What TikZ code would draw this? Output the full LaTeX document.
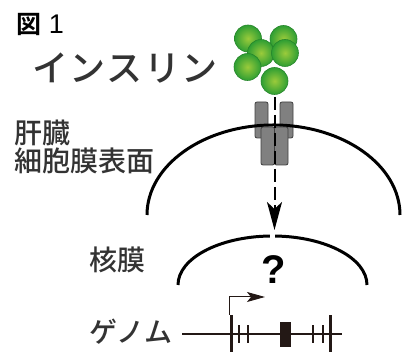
\documentclass[tikz,border=0pt]{standalone}
\usepackage{fontspec}
\setmainfont{Liberation Sans}
\newfontfamily\jp{Noto Sans CJK JP}[UprightFont=* Medium, BoldFont=* Bold]
\newfontfamily\jpwide{Noto Sans CJK JP}[UprightFont=* Medium, LetterSpace=4]
\usepackage{xcolor}
\usetikzlibrary{arrows.meta, positioning}

\definecolor{txtgray}{HTML}{333333}
\definecolor{insulinlight}{HTML}{9BCB3B}
\definecolor{insulindark}{HTML}{2E9E33}
\definecolor{receptorgray}{HTML}{808080}
\definecolor{genebrown}{HTML}{231815}

\tikzstyle{jptext} = [font=\jp\fontsize{28}{28}\selectfont, text=txtgray, inner sep=0pt]
\tikzstyle{insulin} = [circle, minimum size=27pt, inner sep=0pt, draw=insulindark!85!black, line width=0.6pt, shading=radial, inner color=insulinlight, outer color=insulindark]
\tikzstyle{subunit} = [rectangle, rounded corners=2pt, minimum width=13pt, inner sep=0pt, draw=black!75, fill=receptorgray, line width=0.8pt]
\tikzstyle{membrane} = [line width=3pt, black]
\tikzstyle{signal} = [line width=2pt, dash pattern=on 13pt off 5pt, -{Stealth[length=28pt, width=15pt, inset=7pt]}]
\tikzstyle{tallmark} = [line width=2.5pt, genebrown]
\tikzstyle{shortmark} = [line width=2pt, genebrown]

\begin{document}
\begin{tikzpicture}[x=1pt, y=1pt]
        \useasboundingbox (0,0) rectangle (410,352);

        % Title
        \node (figmark) [inner sep=0pt, font=\jp\bfseries\fontsize{25}{25}\selectfont] at (29,327.5) {図};
        \node (fignum) [inner sep=0pt, font=\fontsize{27}{27}\selectfont, right=7pt of figmark] {1};

        % Insulin
        \node (insname) [jptext, font=\jpwide\fontsize{36}{36}\selectfont] at (125,283.5) {インスリン};
        \node (ins1) [insulin] at (248,313.5) {};
        \node (ins2) [insulin] at (283.5,313) {};
        \node (ins3) [insulin] at (261,299) {};
        \node (ins4) [insulin] at (285,299) {};
        \node (ins5) [insulin] at (247.5,285) {};
        \node (ins6) [insulin] at (274.5,271) {};

        % Receptor and cell surface
        \node (recl) [subunit, minimum height=36pt] at (261.5,232) {};
        \node (recr) [subunit, minimum height=36pt] at (286.5,232) {};
        \draw [membrane] (147,137) arc[start angle=180, end angle=0, x radius=126.5pt, y radius=90pt];
        \node (recbl) [subunit, minimum width=13.5pt, minimum height=38pt] at (267.75,206) {};
        \node (recbr) [subunit, minimum width=13.5pt, minimum height=38pt] at (281.25,206) {};
        \node (surface) [jptext, align=left, anchor=west] at (14,205) {肝臓\\[-0.5pt]細胞膜表面};

        % Signal into the nucleus
        \coordinate (target) at (274.5,122);
        \draw [signal, shorten <=2pt] (ins6.south) -- (target);

        % Nuclear membrane
        \draw [membrane] (178,67) arc[start angle=180, end angle=91.6, x radius=94.5pt, y radius=49pt];
        \draw [membrane] (367,67) arc[start angle=0, end angle=88.4, x radius=94.5pt, y radius=49pt];
        \node (nucleus) [jptext] at (117,92) {核膜};
        \node (unknown) [inner sep=0pt, font=\bfseries\fontsize{40}{40}\selectfont] at (274,82) {?};

        % Genome
        \node (genome) [jptext] at (131,20.5) {ゲノム};
        \coordinate (gstart) at (182,18);
        \coordinate (gend) at (342,18);
        \draw [line width=2pt, genebrown] (gstart) -- (gend);
        \draw [tallmark] (231.7,0) -- (231.7,37);
        \draw [tallmark] (330.7,0) -- (330.7,37);
        \draw [shortmark] (239,9) -- (239,27);
        \draw [shortmark] (247.7,9) -- (247.7,27);
        \draw [shortmark] (313,9) -- (313,27);
        \draw [shortmark] (323,9) -- (323,27);
        \node (exon) [rectangle, fill=genebrown, inner sep=0pt, minimum width=10.5pt, minimum height=25pt] at (285.3,17.5) {};
        \coordinate (tss) at (229,37);
        \coordinate (tssend) at (265,55);
        \draw [line width=1pt, genebrown, -{Stealth[length=18pt, width=10pt, inset=4pt]}] (tss) |- (tssend);
    \end{tikzpicture}
\end{document}
